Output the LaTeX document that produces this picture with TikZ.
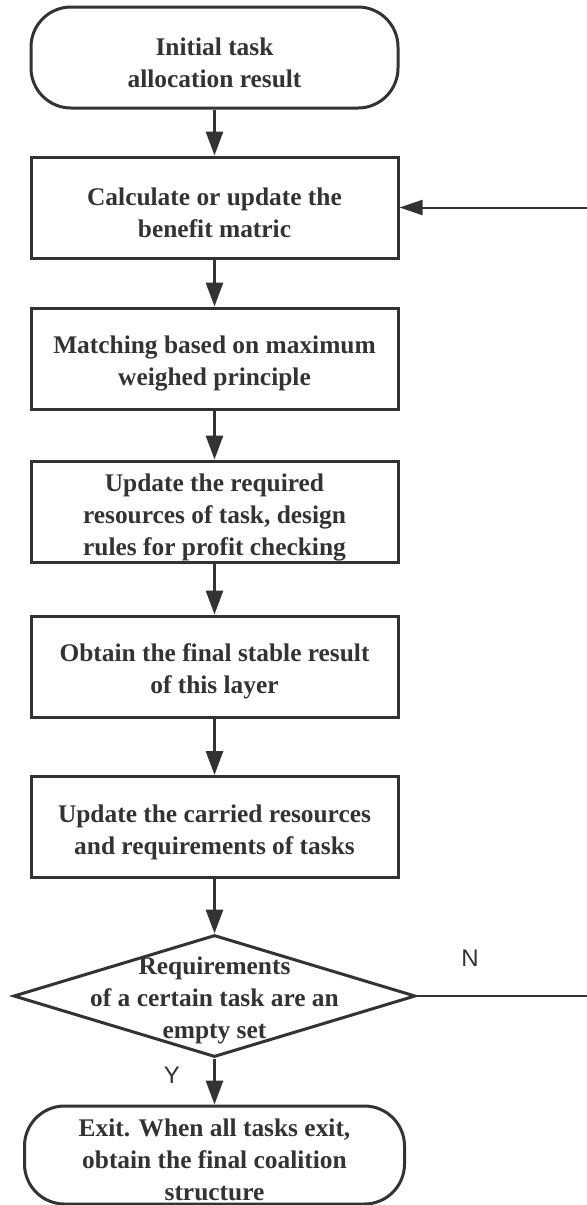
\documentclass[tikz,border=0pt]{standalone}
\usepackage{fontspec}
\setmainfont{Liberation Serif}
\newfontfamily\labelfont{Liberation Sans}
\usetikzlibrary{shapes.geometric}
\usetikzlibrary{arrows.meta}
\definecolor{ink}{RGB}{51,51,51}
% pushes the text of a box down a little
\newcommand{\dropby}[1]{\rule{0pt}{\dimexpr 8.7pt+#1\relax}}
\tikzset{
  flow/.style={
    base/.style={draw=ink, line width=1.5pt, text=ink, font={\bfseries\fontsize{12.7}{16}\selectfont}, align=center, inner sep=0pt},
    process/.style={base, rectangle, minimum width=183.5pt, minimum height=50.5pt},
    terminal/.style={base, rectangle, rounded corners=20pt, minimum width=183.5pt, minimum height=50.5pt},
    decision/.style={base, diamond, minimum width=201pt, minimum height=61pt},
    inside text/.style={text=ink, font={\bfseries\fontsize{12.7}{16}\selectfont}, align=center, inner sep=0pt},
    step arrow/.style={ink, line width=1.5pt, -{Triangle[length=12pt,width=8.5pt]}},
    loop line/.style={ink, line width=1pt, -{Triangle[length=11.5pt,width=7.5pt]}},
    branch label/.style={text=ink, font={\labelfont\fontsize{12}{14}\selectfont}},
  }
}

\begin{document}
\begin{tikzpicture}[flow, x=0.5pt, y=-0.5pt]
    \useasboundingbox (0,0) rectangle (586,1205);

    % main column
    \node[terminal] (start) at (214.5,57.5) {\dropby{5pt}Initial task\\allocation result};
    \node[process] (calc) at (214.5,207.5) {\dropby{5pt}Calculate or update the\\benefit matric};
    \node[process] (match) at (214.5,358.5) {\dropby{5pt}Matching based on maximum\\weighed principle};
    \node[process] (update) at (214.5,511.5) {\dropby{6.5pt}Update the required\\resources of task, design\\rules for profit checking};
    \node[process] (obtain) at (214.5,666.5) {\dropby{5pt}Obtain the final stable result\\of this layer};
    \node[process] (carry) at (214.5,827) {\dropby{5pt}Update the carried resources\\and requirements of tasks};
    \node[decision] (check) at (214.5,996) {};
    \node[inside text] (checktext) at (214.5,1000) {Requirements\\of a certain task are an\\empty set};
    \node[terminal, minimum width=190pt, minimum height=49pt] (exit) at (214.5,1155) {\dropby{5pt}Exit. When all tasks exit,\\obtain the final coalition\\structure};

    \draw[step arrow] (start) -- (calc);
    \draw[step arrow] (calc) -- (match);
    \draw[step arrow] (match) -- (update);
    \draw[step arrow] (update) -- (obtain);
    \draw[step arrow] (obtain) -- (carry);
    \draw[step arrow] (carry) -- (check);
    \draw[step arrow] (check) -- (exit);

    % back to the benefit matric
    \coordinate (loopcorner) at (594,996);
    \draw[loop line] (check.east) -- (loopcorner) |- (calc.east);

    \node[branch label] (nolabel) at (470,958) {N};
    \node[branch label] (yeslabel) at (172,1075) {Y};
\end{tikzpicture}
\end{document}
